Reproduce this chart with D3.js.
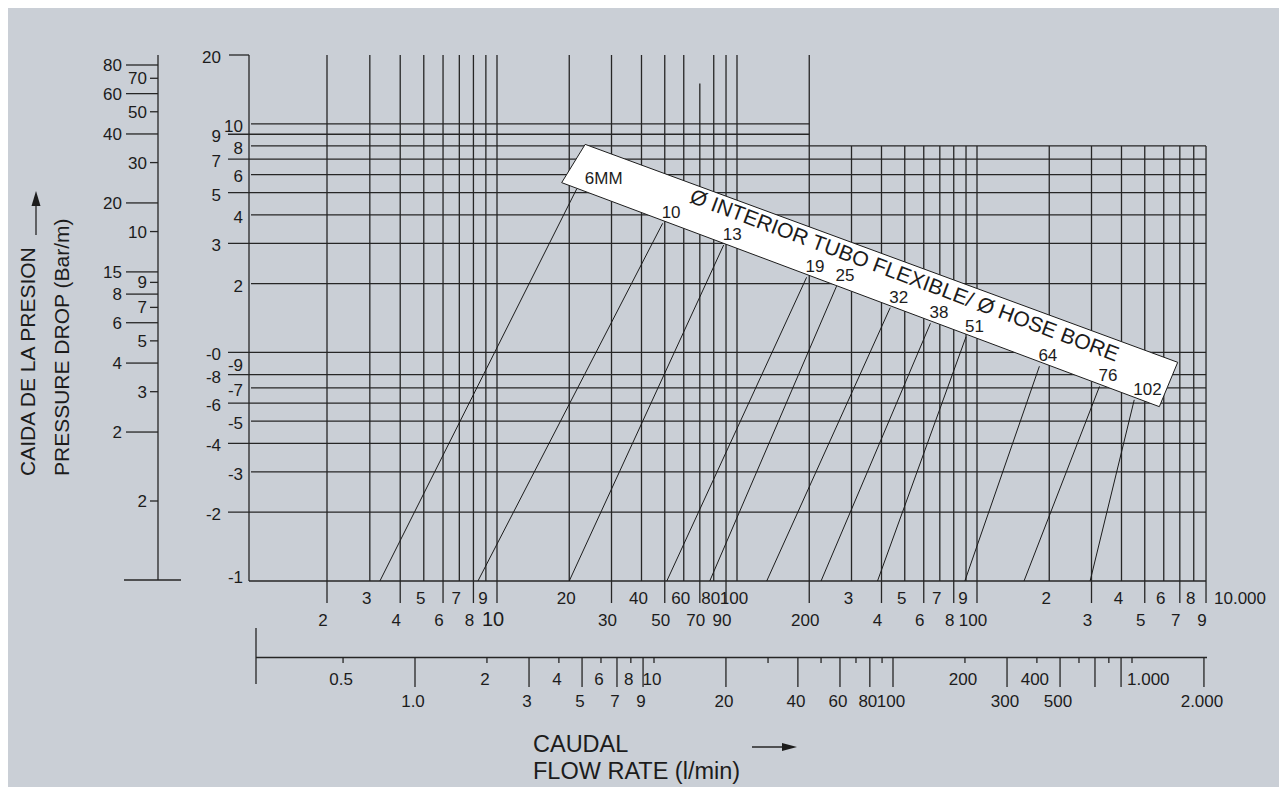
<!DOCTYPE html>
<html lang="es">
<head>
<meta charset="UTF-8">
<title>Caudal / Caida de la presion</title>
<style>
  body, html { margin: 0; padding: 0; background: #ffffff; }
  svg { display: block; font-family: 'Liberation Sans', Arial, sans-serif; }
  .grid { stroke: #262626; stroke-width: 1.3px; }
  .tick { stroke: #262626; stroke-width: 1.3px; }
  .lbl { font-size: 17px; fill: #1c1c1c; }
  .hose { stroke: #1c1c1c; stroke-width: 1px; fill: none; }
  .title { font-size: 23.5px; fill: #1c1c1c; }
  .vtitle { font-size: 21px; fill: #1c1c1c; }
</style>
</head>
<body>
<svg width="1287" height="795"></svg>
<script src="https://d3js.org/d3.v7.min.js"></script>
<script>
// main flow rate scale (grid lines + labels, the big numbers repeat per decade)
const flowTicks = [2, 3, 4, 5, 6, 7, 8, 9, 10, 20, 30, 40, 50, 60, 70, 80, 90, 100,
  200, 300, 400, 500, 600, 700, 800, 900, 1000, 2000, 3000, 4000, 5000, 6000, 7000, 8000, 9000];
const flowLabels = ["2", "3", "4", "5", "6", "7", "8", "9", "10", "20", "30", "40", "50", "60", "70", "80", "90", "100",
  "200", "3", "4", "5", "6", "7", "8", "9", "100", "2", "3", "4", "5", "6", "7", "8", "9"];

// second flow scale under the chart
const rateTicks = [0.5, 1, 2, 3, 4, 5, 6, 7, 8, 9, 10, 20, 30, 40, 50, 60, 70, 80, 90, 100,
  200, 300, 400, 500, 600, 700, 800, 900, 1000, 2000];
const rateLabels = ["0.5", "1.0", "2", "3", "4", "5", "6", "7", "8", "9", "10", "20", "", "40", "", "60", "", "80", "", "100",
  "200", "300", "400", "500", "", "", "", "", "1.000", "2.000"];

// pressure drop (Bar/m), right hand scale
const dropTicks = [20, 10, 9, 8, 7, 6, 5, 4, 3, 2, 1, 0.9, 0.8, 0.7, 0.6, 0.5, 0.4, 0.3, 0.2, 0.1];
const dropLabels = ["20", "10", "9", "8", "7", "6", "5", "4", "3", "2", "-0", "-9", "-8", "-7", "-6", "-5", "-4", "-3", "-2", "-1"];

// left hand scale (labels as printed)
const leftTicks = [80, 70, 60, 50, 40, 30, 20, 15, 10, 9, 8, 7, 6, 5, 4, 3, 2, 1];
const leftLabels = ["80", "70", "60", "50", "40", "30", "20", "10", "15", "9", "8", "7", "6", "5", "4", "3", "2", "2"];

// hose bores: upper point (on the band) and lower point of each line
const hoseBore = ["6MM", "10", "13", "19", "25", "32", "38", "51", "64", "76", "102"];
const hoseFlowTop = [21.5, 49, 88, 195, 260, 435, 640, 900, 1820, 3240, 4520];
const hoseDropTop = [5.2, 3.67, 2.95, 2.13, 1.95, 1.57, 1.34, 1.17, 0.87, 0.71, 0.62];
const hoseFlowEnd = [3.3, 8.35, 20, 51, 77, 133, 224, 385, 890, 1570, 2960];
const hoseDropEnd = [0.1, 0.1, 0.1, 0.1, 0.1, 0.1, 0.1, 0.1, 0.1, 0.1, 0.1];

// white label band, corners in chart units
const bandFlow = [23.3, 6860, 5750, 18.6];
const bandDrop = [8.13, 0.905, 0.579, 5.53];
const bandTitle = "Ø INTERIOR TUBO FLEXIBLE/ Ø HOSE BORE";

const svg = d3.select("svg");

svg.append("rect")
  .attr("x", 8).attr("y", 8)
  .attr("width", 1271).attr("height", 779)
  .attr("fill", "#cacfd6");

const x = d3.scaleLog().domain([2, 10, 10000]).range([327, 497, 1217]);
const y = d3.scaleLog().domain([0.1, 20]).range([581, 55]);
const yLeft = d3.scaleLog().domain([1, 80]).range([501, 65]);
const x2 = d3.scaleLog().domain([1, 1000]).range([415, 1132]);

const axisX = 249;          // pressure axis
const leftX = 158;          // left scale
const bottomY = y(0.1);
const rate2Y = 657.5;

const g = svg.append("g");

// vertical grid lines
g.selectAll(".vgrid")
  .data(flowTicks)
  .enter().append("line")
  .attr("class", "grid")
  .attr("x1", d => x(d)).attr("x2", d => x(d))
  .attr("y1", d => d <= 200 ? (d === 70 ? y(15) : y(20)) : y(8))
  .attr("y2", bottomY);

// horizontal grid lines (no line at 0.9)
const hData = dropTicks.map((v, i) => ({ v, i })).filter(d => d.v !== 20 && d.v !== 0.9 && d.v !== 0.1);
g.selectAll(".hgrid")
  .data(hData)
  .enter().append("line")
  .attr("class", "grid")
  .attr("x1", d => d.i % 2 === 0 ? 228 : 251)
  .attr("x2", d => d.v >= 9 ? x(200) : x(9000))
  .attr("y1", d => y(d.v)).attr("y2", d => y(d.v));

// pressure axis + bottom axis
g.append("line").attr("class", "grid")
  .attr("x1", axisX).attr("x2", axisX).attr("y1", y(20)).attr("y2", bottomY);
g.append("line").attr("class", "grid")
  .attr("x1", 229).attr("x2", axisX).attr("y1", y(20)).attr("y2", y(20));
g.append("line").attr("class", "grid")
  .attr("x1", axisX).attr("x2", x(9000)).attr("y1", bottomY).attr("y2", bottomY);

g.selectAll(".dlbl")
  .data(dropTicks)
  .enter().append("text")
  .attr("class", "lbl")
  .attr("text-anchor", "end")
  .attr("x", (d, i) => i % 2 === 0 ? 221 : 243)
  .attr("y", (d, i) => i === dropTicks.length - 1 ? y(d) - 4 : y(d) + 2)
  .attr("dy", "0.35em")
  .text((d, i) => dropLabels[i]);

// flow ticks + labels under the grid
flowTicks.forEach((v, i) => {
  const low = i % 2 === 0;
  if (low) {
    g.append("line").attr("class", "tick")
      .attr("x1", x(v)).attr("x2", x(v)).attr("y1", bottomY).attr("y2", bottomY + 22);
  }
  g.append("text")
    .attr("class", "lbl")
    .attr("text-anchor", "middle")
    .attr("x", x(v) - (low ? 4 : 3))
    .attr("y", low ? 626 : 604)
    .style("font-size", v === 10 ? "20px" : null)
    .text(flowLabels[i]);
});
g.append("text").attr("class", "lbl")
  .attr("x", 1214).attr("y", 604)
  .text("10.000");

// second flow axis
g.append("line").attr("class", "tick")
  .attr("x1", 256).attr("x2", 1207).attr("y1", rate2Y).attr("y2", rate2Y);
g.append("line").attr("class", "tick")
  .attr("x1", 256).attr("x2", 256).attr("y1", 628).attr("y2", 684);
rateTicks.forEach((v, i) => {
  const long = i % 2 === 1;
  g.append("line").attr("class", "tick")
    .attr("x1", x2(v)).attr("x2", x2(v))
    .attr("y1", rate2Y).attr("y2", long ? 687 : 663);
  if (!rateLabels[i]) return;
  const t = g.append("text").attr("class", "lbl")
    .attr("y", long ? 707 : 685)
    .text(rateLabels[i]);
  if (v === 1000) t.attr("x", x2(v) - 5);
  else t.attr("x", x2(v) - 2).attr("text-anchor", "middle");
});

// left scale
g.append("line").attr("class", "tick")
  .attr("x1", leftX).attr("x2", leftX).attr("y1", 55).attr("y2", 580);
g.append("line").attr("class", "tick")
  .attr("x1", 124).attr("x2", 181).attr("y1", 580).attr("y2", 580);
leftTicks.forEach((v, i) => {
  const long = i % 2 === 0;
  g.append("line").attr("class", "tick")
    .attr("x1", long ? 126 : 150).attr("x2", leftX)
    .attr("y1", yLeft(v)).attr("y2", yLeft(v));
  g.append("text").attr("class", "lbl")
    .attr("text-anchor", "end")
    .attr("x", long ? 122 : 147)
    .attr("y", yLeft(v))
    .attr("dy", "0.35em")
    .text(leftLabels[i]);
});

// hose lines
const hoses = hoseBore.map((b, i) => ({
  bore: b, q1: hoseFlowTop[i], p1: hoseDropTop[i], q2: hoseFlowEnd[i], p2: hoseDropEnd[i]
}));
g.selectAll(".hose")
  .data(hoses)
  .enter().append("line")
  .attr("class", "hose")
  .attr("x1", d => x(d.q1)).attr("y1", d => y(d.p1))
  .attr("x2", d => x(d.q2)).attr("y2", d => y(d.p2));

// band
const band = bandFlow.map((q, i) => [x(q), y(bandDrop[i])]);
g.append("path")
  .attr("d", d3.line()(band) + "Z")
  .attr("fill", "#ffffff")
  .attr("stroke", "#1c1c1c")
  .attr("stroke-width", 1);

g.append("text")
  .attr("transform", `translate(${x(62.8)},${y(4.55)}) rotate(20.5)`)
  .attr("textLength", 456)
  .attr("lengthAdjust", "spacingAndGlyphs")
  .style("font-size", "21px")
  .attr("fill", "#1c1c1c")
  .text(bandTitle);

g.selectAll(".hlbl")
  .data(hoses)
  .enter().append("text")
  .attr("class", "lbl")
  .attr("x", (d, i) => x(d.q1) + (i === 0 ? 8 : -1))
  .attr("y", d => y(d.p1) - 5)
  .text(d => d.bore);

// axis titles
g.append("text").attr("class", "vtitle")
  .attr("transform", "translate(35,476) rotate(-90)")
  .text("CAIDA DE LA PRESION");
g.append("text").attr("class", "vtitle")
  .attr("transform", "translate(69,476) rotate(-90)")
  .text("PRESSURE DROP (Bar/m)");
g.append("line").attr("class", "tick")
  .attr("x1", 36).attr("x2", 36).attr("y1", 235).attr("y2", 200);
g.append("path")
  .attr("d", "M36,191 L31.5,206 L40.5,206 Z")
  .attr("fill", "#1c1c1c");

g.append("text").attr("class", "title")
  .attr("x", 533).attr("y", 752)
  .text("CAUDAL");
g.append("text").attr("class", "title")
  .attr("x", 533).attr("y", 779)
  .text("FLOW RATE (l/min)");
g.append("line").attr("class", "tick")
  .attr("x1", 752).attr("x2", 788).attr("y1", 747).attr("y2", 747);
g.append("path")
  .attr("d", "M797,747 L782,743 L782,751 Z")
  .attr("fill", "#1c1c1c");
</script>
</body>
</html>
